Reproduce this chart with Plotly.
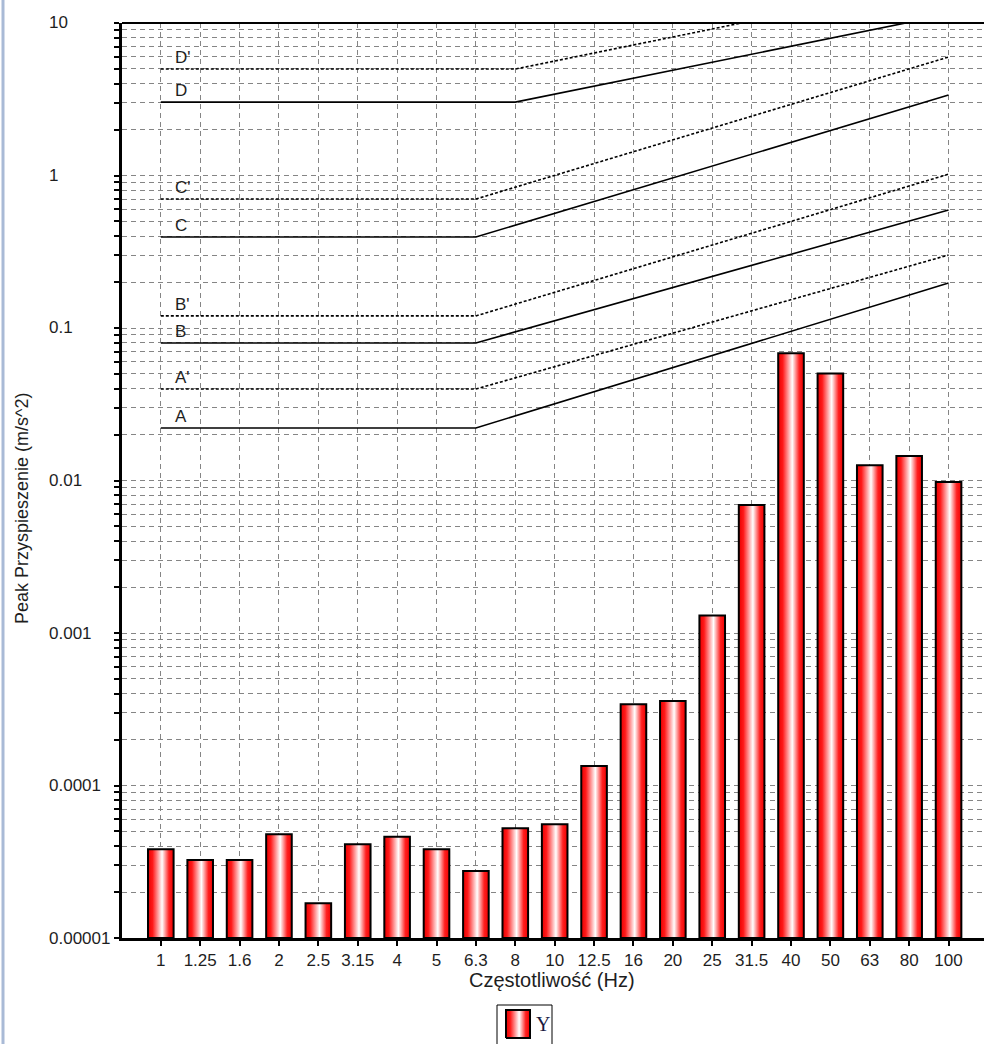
import math
import plotly.graph_objects as go

# One-third octave band centre frequencies (Hz)
freq_labels = ["1", "1.25", "1.6", "2", "2.5", "3.15", "4", "5", "6.3", "8", "10",
               "12.5", "16", "20", "25", "31.5", "40", "50", "63", "80", "100"]

# Peak acceleration per band (m/s^2)
peak_acc = [3.82e-5, 3.25e-5, 3.25e-5, 4.79e-5, 1.69e-5, 4.12e-5, 4.62e-5, 3.82e-5,
            2.75e-5, 5.24e-5, 5.57e-5, 1.34e-4, 3.41e-4, 3.58e-4, 1.30e-3, 6.91e-3,
            6.82e-2, 5.04e-2, 1.26e-2, 1.45e-2, 9.77e-3]

# Limit curves: flat level up to the knee band, then a straight rise to the last band
curve_names = ["A", "A'", "B", "B'", "C", "C'", "D", "D'"]
curve_flat = [0.0221, 0.0398, 0.0798, 0.120, 0.395, 0.701, 3.03, 4.99]
curve_knee = ["6.3", "6.3", "6.3", "6.3", "6.3", "6.3", "8", "8"]
curve_end = [0.197, 0.301, 0.594, 1.02, 3.37, 5.98, 11.4, 18.9]
curve_dotted = [False, True, False, True, False, True, False, True]

# Decade labels of the acceleration axis
decade_vals = [1e-5, 1e-4, 1e-3, 1e-2, 1e-1, 1, 10]
decade_text = ["0.00001", "0.0001", "0.001", "0.01", "0.1", "1", "10"]

W, H = 984, 1044
# plot frame in pixels
PX0, PX1, PY0, PY1 = 122, 984, 23, 938


def px(x):
    return x / W


def py(y):
    return 1 - y / H


FONT = "Liberation Sans, Arial, sans-serif"
TXT = "#1e1e1e"
Y_MIN = 1e-5
BAR_W = 0.65
x_last = len(freq_labels) - 1

bar_scale = [[0.0, "#e80000"], [0.18, "#ff1a1a"], [0.55, "#ffffff"],
             [0.82, "#ff2020"], [1.0, "#f00000"]]

fig = go.Figure()

for i, v in enumerate(peak_acc):
    x0, x1 = i - BAR_W / 2, i + BAR_W / 2
    fig.add_trace(go.Scatter(
        x=[x0, x0, x1, x1, x0],
        y=[Y_MIN, v, v, Y_MIN, Y_MIN],
        mode="lines",
        fill="toself",
        fillgradient=dict(type="horizontal", colorscale=bar_scale),
        line=dict(color="black", width=2),
        showlegend=False,
        hoverinfo="skip",
    ))

for name, flat, knee, end, dotted in zip(curve_names, curve_flat, curve_knee,
                                         curve_end, curve_dotted):
    k = freq_labels.index(knee)
    fig.add_trace(go.Scatter(
        x=[0, k, x_last],
        y=[flat, flat, end],
        mode="lines",
        line=dict(color="black", width=1.6, dash="3px,2px" if dotted else "solid"),
        showlegend=False,
        hoverinfo="skip",
    ))
    fig.add_annotation(
        x=0.3, y=math.log10(flat), xref="x", yref="y",
        text=name, showarrow=False, xanchor="left", yanchor="bottom",
        font=dict(family=FONT, size=17, color=TXT),
    )

# Legend key for the "Y" series: a small gradient-filled box
fig.add_trace(go.Scatter(
    x=[0, 0, 1, 1, 0], y=[0, 1, 1, 0, 0],
    xaxis="x2", yaxis="y2",
    mode="lines", fill="toself",
    fillgradient=dict(type="horizontal", colorscale=bar_scale),
    line=dict(color="black", width=2),
    showlegend=False, hoverinfo="skip",
))
fig.add_shape(type="rect", xref="paper", yref="paper",
              x0=px(497), x1=px(552), y0=py(1050), y1=py(1005),
              line=dict(color="black", width=1), fillcolor="rgba(0,0,0,0)")
fig.add_annotation(
    x=px(534), y=py(1024), xref="paper", yref="paper", text="Y",
    showarrow=False, xanchor="left", yanchor="middle",
    font=dict(family="Liberation Serif, Times New Roman, serif", size=20,
              color="#1a1a40"),
)

# Minor and major grid positions on the log axis
grid_vals = []
for e in range(-5, 1):
    for m in range(1, 10):
        grid_vals.append(m * 10 ** e)
grid_vals.append(10)

for v, t in zip(decade_vals, decade_text):
    fig.add_annotation(
        x=px(47), y=math.log10(v), xref="paper", yref="y",
        text=t, showarrow=False, xanchor="left", yanchor="middle",
        font=dict(family=FONT, size=17, color=TXT),
    )

fig.add_annotation(
    x=px(22), y=py(508), xref="paper", yref="paper",
    text="Peak Przyspieszenie (m/s^2)", textangle=-90, showarrow=False,
    xanchor="center", yanchor="middle",
    font=dict(family=FONT, size=18, color=TXT),
)
fig.add_annotation(
    x=px(552), y=py(980), xref="paper", yref="paper",
    text="Częstotliwość (Hz)", showarrow=False,
    xanchor="center", yanchor="middle",
    font=dict(family=FONT, size=20, color=TXT),
)

# top frame line
fig.add_shape(type="line", xref="paper", yref="paper",
              x0=px(PX0), x1=1, y0=py(PY0), y1=py(PY0),
              line=dict(color="black", width=2))
# window edge on the far left
fig.add_shape(type="line", xref="paper", yref="paper",
              x0=px(3), x1=px(3), y0=0, y1=1,
              line=dict(color="#a9bad6", width=3))

grid_common = dict(gridcolor="#858585", gridwidth=1, griddash="5px,4px")

fig.update_layout(
    width=W, height=H,
    margin=dict(l=0, r=0, t=0, b=0),
    plot_bgcolor="white", paper_bgcolor="white",
    showlegend=False,
    xaxis=dict(
        domain=[px(PX0), px(PX1)],
        range=[-0.985, 20.9], automargin=False,
        tickmode="array", tickvals=list(range(len(freq_labels))), ticktext=freq_labels,
        ticks="outside", ticklen=5, tickwidth=1.5, tickcolor="black",
        showline=True, linecolor="black", linewidth=3,
        showgrid=True, zeroline=False, **grid_common,
        tickfont=dict(family=FONT, size=17, color=TXT),
    ),
    yaxis=dict(
        domain=[py(PY1), py(PY0)],
        type="log", range=[-5, 1], automargin=False,
        tickmode="array", tickvals=grid_vals, showticklabels=False,
        ticks="outside", ticklen=5, tickwidth=1.5, tickcolor="black",
        showline=True, linecolor="black", linewidth=3,
        showgrid=True, zeroline=False, **grid_common,
    ),
    xaxis2=dict(domain=[px(505), px(531)], range=[-0.04, 1.04], visible=False,
                anchor="y2", fixedrange=True),
    yaxis2=dict(domain=[py(1039), py(1009)], range=[-0.04, 1.04], visible=False,
                anchor="x2", fixedrange=True),
)

fig.write_html("out.html")
